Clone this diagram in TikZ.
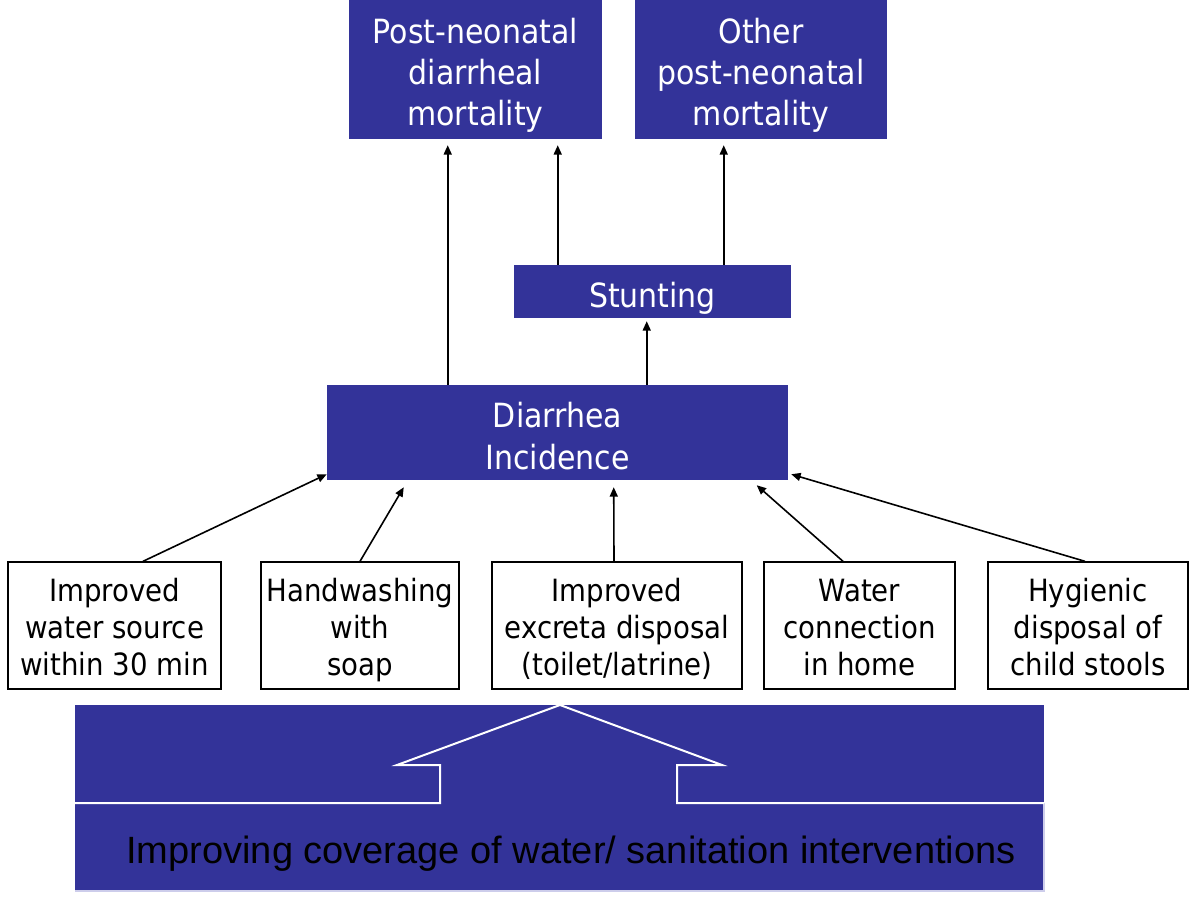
\documentclass[tikz,border=0pt]{standalone}
\usepackage{fontspec}
\usepackage{graphicx}
\setmainfont{DejaVu Sans Condensed}
\newfontfamily\arialfont{Liberation Sans}
\usetikzlibrary{arrows.meta,calc}
\definecolor{navy}{RGB}{51,51,153}
\definecolor{lav}{RGB}{205,205,235}
\newcommand\shiftdown[2]{\raisebox{-#1}[\height][\depth]{\begin{tabular}{@{}c@{}}#2\end{tabular}}}
\tikzset{
  bluebox/.style={draw=none,fill=navy,text=white,align=center,inner sep=0pt,
    font=\fontsize{25pt}{31pt}\selectfont},
  whitebox/.style={draw=black,line width=1pt,fill=white,align=center,inner sep=0pt,
    minimum height=127*0.75pt,font=\fontsize{23pt}{27.8pt}\selectfont},
  link/.style={line width=1.2pt,-{Triangle[length=7pt,width=6pt]}},
}
\begin{document}
\begin{tikzpicture}[x=0.75pt,y=-0.75pt]
\useasboundingbox (0,0) rectangle (1200,905);
% top boxes
\node[bluebox,minimum width=253*0.75pt,minimum height=139*0.75pt] (pnd) at (475.5,69.5)
  {\shiftdown{5pt}{Post-neonatal\\diarrheal\\mortality}};
\node[bluebox,minimum width=252*0.75pt,minimum height=139*0.75pt] (opn) at (761,69.5)
  {\shiftdown{5pt}{Other\\post-neonatal\\mortality}};
\node[bluebox,minimum width=277*0.75pt,minimum height=53*0.75pt] (stunt) at (652.5,291.5)
  {\shiftdown{6pt}{Stunting}};
\node[bluebox,minimum width=461*0.75pt,minimum height=95*0.75pt,
  font=\fontsize{25pt}{31.5pt}\selectfont] (diar) at (557.5,432.5)
  {\shiftdown{6pt}{Diarrhea\\Incidence}};
% bottom boxes
\node[whitebox,minimum width=213*0.75pt] (b1) at (114.5,625.5) {\shiftdown{4pt}{Improved\\water source\\within 30 min}};
\node[whitebox,minimum width=198*0.75pt] (b2) at (360,625.5) {\shiftdown{4pt}{Handwashing\\with\\soap}};
\node[whitebox,minimum width=250*0.75pt] (b3) at (617,625.5) {\shiftdown{4pt}{Improved\\excreta disposal\\(toilet/latrine)}};
\node[whitebox,minimum width=191*0.75pt] (b4) at (859.5,625.5) {\shiftdown{4pt}{Water\\connection\\in home}};
\node[whitebox,minimum width=200*0.75pt] (b5) at (1088,625.5) {\shiftdown{4pt}{Hygienic\\disposal of\\child stools}};
% connectors bottom -> diarrhea
\draw[link] ($(b1.north)+(28.5,0)$) -- ($(diar.south west)+(0,-6)$);
\draw[link] (b2.north) -- ($(diar.south west)+(77,7)$);
\draw[link] ($(b3.north)+(-3,0)$) -- ($(diar.south west)+(287,7)$);
\draw[link] ($(b4.north)+(-16.5,0)$) -- ($(diar.south west)+(430,5)$);
\draw[link] ($(b5.north)+(-3,0)$) -- ($(diar.south east)+(3,-6)$);
% upper connectors
\draw[link] ($(diar.north west)+(121,0)$) -- ($(pnd.south west)+(99,6)$);
\draw[link] ($(diar.north west)+(320,0)$) -- ($(stunt.south west)+(133,3)$);
\draw[link] ($(stunt.north west)+(44,0)$) -- ($(pnd.south west)+(209,6)$);
\draw[link] ($(stunt.north west)+(210,0)$) -- ($(opn.south west)+(89,6)$);
% bottom block arrow
\fill[navy] (75,705) rectangle (1044,891);
\draw[lav,line width=1pt] (1044,803) -- (1044,891) -- (75,891);
\draw[white,line width=1.5pt] (75,803) -- (440,803) -- (440,765) -- (397,765) -- (560,705)
  -- (722,765) -- (677,765) -- (677,803) -- (1044,803);
\node[text=black,font=\arialfont\fontsize{28.5pt}{32pt}\selectfont,inner sep=0pt] (cov) at (571,854)
  {Improving coverage of water/ sanitation interventions};
\end{tikzpicture}
\end{document}
